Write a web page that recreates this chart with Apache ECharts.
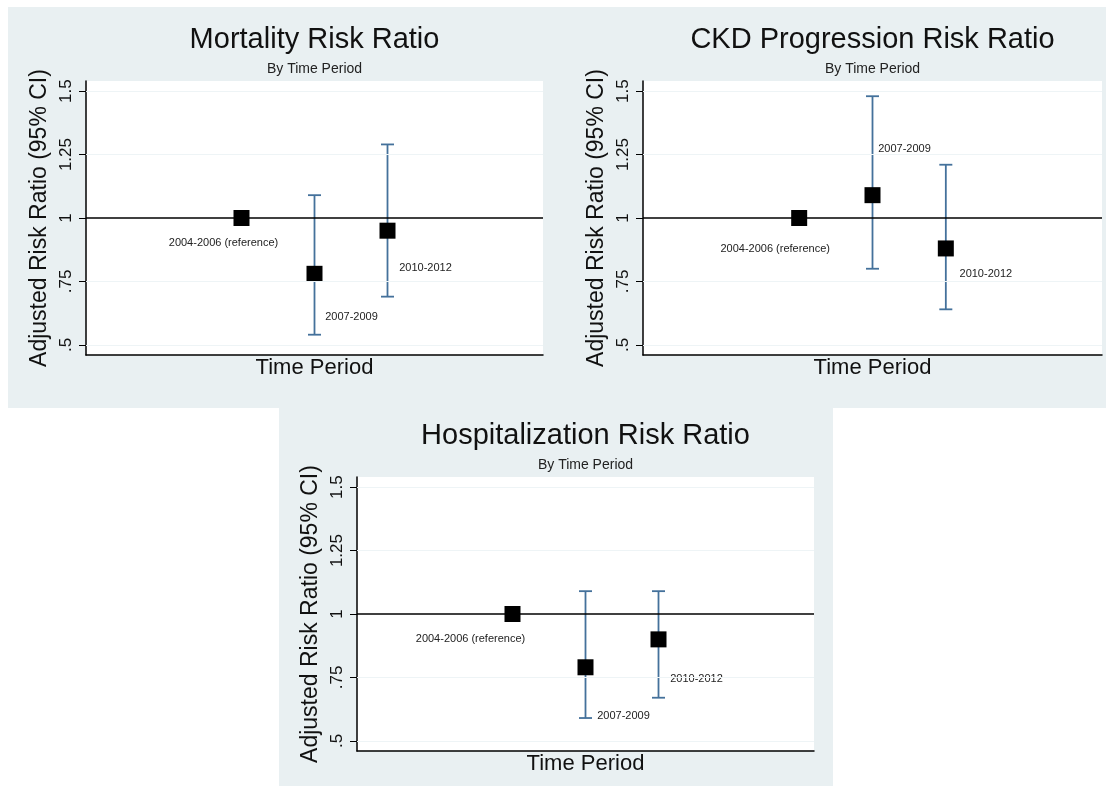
<!DOCTYPE html>
<html><head><meta charset="utf-8">
<script src="https://cdn.jsdelivr.net/npm/echarts@6/dist/echarts.min.js"></script>
<style>html,body{margin:0;padding:0;background:#fff}#c{width:1107px;height:786px}</style>
</head><body><div id="c"></div>
<script>
// ---------- data ----------
const periods = ['2004-2006 (reference)', '2007-2009', '2010-2012'];
const periodX = [1, 2, 3];
const yTicks = [0.5, 0.75, 1, 1.25, 1.5];
const yTickLabels = ['.5', '.75', '1', '1.25', '1.5'];
const refValue = 1;
const titles = ['Mortality Risk Ratio', 'CKD Progression Risk Ratio', 'Hospitalization Risk Ratio'];
const subtitle = 'By Time Period';
const xTitle = 'Time Period';
const yTitle = 'Adjusted Risk Ratio (95% CI)';

const mortalityRR    = [1.00, 0.78, 0.95];
const mortalityLower = [null, 0.54, 0.69];
const mortalityUpper = [null, 1.09, 1.29];

const ckdRR    = [1.00, 1.09, 0.88];
const ckdLower = [null, 0.80, 0.64];
const ckdUpper = [null, 1.48, 1.21];

const hospRR    = [1.00, 0.79, 0.90];
const hospLower = [null, 0.59, 0.67];
const hospUpper = [null, 1.09, 1.09];

// ---------- layout / style ----------
const FONT = '"Liberation Sans", Arial, Helvetica, sans-serif';
const BG = '#e9f0f2';
const GRIDLINE = '#eef4f6';
const BAR = '#44719b';
const Y_MIN = 0.46, Y_MAX = 1.54;
const X_MIN = -1.13, X_MAX = 5.13;

const panels = [
  { title: titles[0], rr: mortalityRR, lo: mortalityLower, hi: mortalityUpper,
    grid: { left: 86, top: 81, width: 457, height: 274 },
    labelOffsets: [[-18, 25], [37, 43], [38, 37]] },
  { title: titles[1], rr: ckdRR, lo: ckdLower, hi: ckdUpper,
    grid: { left: 643, top: 81, width: 459, height: 274 },
    labelOffsets: [[-24, 31], [32, -46], [40, 26]] },
  { title: titles[2], rr: hospRR, lo: hospLower, hi: hospUpper,
    grid: { left: 357, top: 477, width: 457, height: 274 },
    labelOffsets: [[-42, 25], [38, 49], [38, 40]] }
];

const option = {
  animation: false,
  backgroundColor: '#ffffff',
  graphic: [
    { type: 'rect', z: -100, shape: { x: 8, y: 7, width: 1098, height: 401 }, style: { fill: BG } },
    { type: 'rect', z: -100, shape: { x: 279, y: 408, width: 554, height: 378 }, style: { fill: BG } }
  ],
  title: [], grid: [], xAxis: [], yAxis: [], series: []
};

panels.forEach((p, i) => {
  const g = p.grid;
  const cx = g.left + g.width / 2;
  option.title.push({
    text: p.title, left: cx, top: g.top - 41, padding: 0,
    textAlign: 'center', textVerticalAlign: 'middle',
    textStyle: { fontFamily: FONT, fontSize: 29, fontWeight: 'normal', color: '#111' }
  });
  option.title.push({
    text: subtitle, left: cx, top: g.top - 12, padding: 0,
    textAlign: 'center', textVerticalAlign: 'middle',
    textStyle: { fontFamily: FONT, fontSize: 14, fontWeight: 'normal', color: '#222' }
  });
  option.grid.push({
    left: g.left, top: g.top, width: g.width, height: g.height,
    show: true, backgroundColor: '#ffffff', borderWidth: 0, containLabel: false
  });
  option.xAxis.push({
    type: 'value', gridIndex: i, min: X_MIN, max: X_MAX,
    name: xTitle, nameLocation: 'middle', nameGap: 2,
    nameTextStyle: { fontFamily: FONT, fontSize: 22, color: '#111', verticalAlign: 'top' },
    axisLine: { show: true, onZero: false, lineStyle: { color: '#000', width: 1.5 } },
    axisTick: { show: false }, axisLabel: { show: false }, splitLine: { show: false }
  });
  option.yAxis.push({
    type: 'value', gridIndex: i, min: Y_MIN, max: Y_MAX,
    name: yTitle, nameLocation: 'middle', nameRotate: 90, nameGap: 35,
    nameTextStyle: { fontFamily: FONT, fontSize: 23, color: '#111' },
    axisLine: { show: true, onZero: false, lineStyle: { color: '#000', width: 1.5 } },
    axisTick: { show: true, length: 7, inside: false, customValues: yTicks,
                lineStyle: { color: '#000', width: 1 } },
    axisLabel: { show: true, rotate: 90, margin: 11, customValues: yTicks,
                 fontFamily: FONT, fontSize: 17, color: '#111',
                 formatter: v => { const k = yTicks.findIndex(t => Math.abs(t - v) < 1e-9); return k >= 0 ? yTickLabels[k] : ''; } },
    splitLine: { show: false }
  });

  const ciData = [];
  periodX.forEach((x, k) => { if (p.lo[k] != null) ciData.push([x, p.lo[k], p.hi[k]]); });

  option.series.push({
    type: 'custom', xAxisIndex: i, yAxisIndex: i, z: 2, silent: true,
    data: ciData,
    renderItem: (params, api) => {
      const x = api.value(0);
      const bot = api.coord([x, api.value(1)]);
      const top = api.coord([x, api.value(2)]);
      const hw = 6.5;
      const st = { stroke: BAR, lineWidth: 1.8 };
      return { type: 'group', children: [
        { type: 'line', shape: { x1: top[0], y1: top[1], x2: bot[0], y2: bot[1] }, style: st },
        { type: 'line', shape: { x1: top[0] - hw, y1: top[1], x2: top[0] + hw, y2: top[1] }, style: st },
        { type: 'line', shape: { x1: bot[0] - hw, y1: bot[1], x2: bot[0] + hw, y2: bot[1] }, style: st }
      ]};
    },
    markLine: {
      silent: true, symbol: ['none', 'none'], label: { show: false }, animation: false,
      data: yTicks.filter(t => t !== refValue).map(t => ({ yAxis: t, lineStyle: { color: GRIDLINE, width: 1, type: 'solid' } }))
        .concat([{ yAxis: refValue, lineStyle: { color: '#000', width: 1.5, type: 'solid' } }])
    }
  });

  option.series.push({
    type: 'scatter', xAxisIndex: i, yAxisIndex: i, z: 3, silent: true,
    symbol: 'rect', symbolSize: 16,
    itemStyle: { color: '#000', opacity: 1 },
    data: periodX.map((x, k) => ({
      value: [x, p.rr[k]], name: periods[k],
      label: { show: true, position: 'inside', offset: p.labelOffsets[k],
               formatter: periods[k], fontFamily: FONT, fontSize: 11, color: '#222' }
    }))
  });
});

const chart = echarts.init(document.getElementById('c'), null, { renderer: 'canvas' });
chart.setOption(option);
</script>
</body></html>
